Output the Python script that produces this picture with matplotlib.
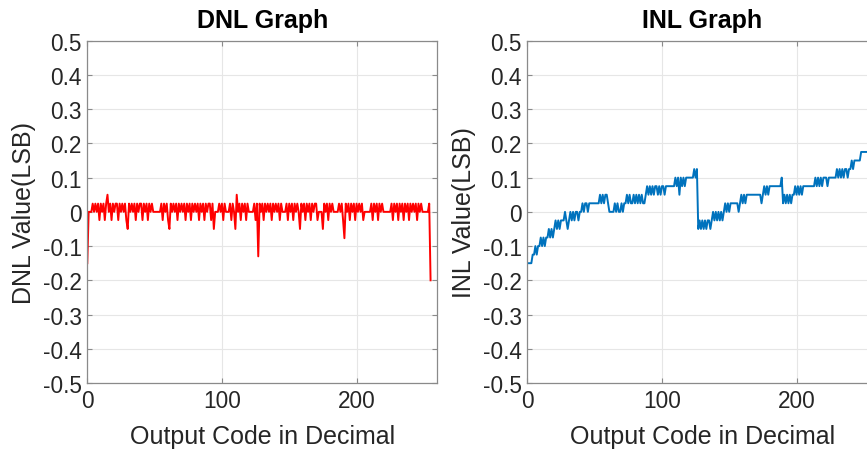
import matplotlib
matplotlib.use("Agg")
import matplotlib.pyplot as plt
import numpy as np
from matplotlib.ticker import FixedLocator, FixedFormatter

plt.rcParams['font.family'] = ['Liberation Sans', 'DejaVu Sans']

codes = list(range(256))

dnl_values = [
    -0.15, 0, 0, 0, 0.024, 0, 0.024, 0, 0.024, -0.024, 0.024, 0, 0.024, -0.024, 0.024, 0.05,
    0, 0.024, -0.024, 0.024, 0, 0.024, 0.024, -0.024, 0.024, 0, 0.024, 0, 0.024, -0.024, -0.05, 0.024,
    0, 0.024, 0, 0.024, -0.024, 0.024, 0, 0.024, 0.024, -0.024, 0.024, 0, 0.024, -0.024, 0.024, 0,
    0.024, 0, 0, 0, 0, 0, 0, 0.024, -0.024, 0.024, 0, 0.024, -0.024, -0.05, 0.024, 0,
    0.024, 0, 0.024, -0.024, 0.024, 0, 0.024, 0, 0.024, -0.024, 0.024, 0, 0.024, -0.024, 0.024, 0,
    0.024, 0, 0.024, -0.024, 0.024, 0, 0.024, -0.024, 0.024, 0, 0.024, 0.024, -0.024, 0.024, -0.05, 0,
    0, 0, 0.024, 0, 0.024, -0.024, 0.024, 0, 0, 0, 0.024, -0.024, 0.024, 0, -0.05, 0.05,
    0, 0.024, -0.024, 0.024, 0, 0.024, -0.024, 0.024, 0, 0, 0, 0, 0.024, -0.024, 0.024, -0.13,
    0.024, 0, 0.024, -0.024, 0.024, 0, 0.024, 0, 0.024, -0.024, 0.024, 0, 0.024, 0, 0.024, -0.024,
    0.024, 0, 0, 0, 0.024, -0.024, 0.024, 0, 0.024, -0.024, 0.024, 0, 0.024, 0, -0.05, 0.024,
    0, 0.024, -0.024, 0.024, 0, 0.024, -0.024, 0.024, 0, 0.024, 0.024, -0.024, 0, 0, 0, -0.05,
    0.024, 0, 0.024, -0.024, 0.024, 0, 0.024, 0, 0, 0, 0, 0.024, 0, 0.024, -0.024, -0.077,
    0.024, 0, 0.024, -0.024, 0.024, 0, 0.024, -0.024, 0.024, 0, 0.024, 0, 0.024, -0.024, 0, 0,
    0, 0, 0, 0.024, -0.024, 0.024, 0, 0.024, -0.024, 0.024, 0, 0.024, 0, 0, 0, 0,
    0, 0, 0.024, -0.024, 0.024, 0, 0.024, -0.024, 0.024, 0, 0.024, -0.024, 0.024, 0, 0.024, -0.024,
    0.024, 0, 0.024, 0, 0.024, -0.024, 0.024, 0, 0.024, 0, 0, 0, 0, 0, 0.024, -0.2,
]

inl_values = [
    -0.15, -0.15, -0.15, -0.15, -0.125, -0.125, -0.1, -0.125, -0.1, -0.1, -0.075, -0.1, -0.075, -0.1, -0.075, -0.075,
    -0.05, -0.075, -0.05, -0.075, -0.05, -0.025, -0.05, -0.025, -0.05, -0.025, -0.025, -0.025, 0.0, -0.025, -0.05, -0.025,
    0.0, -0.025, 0.0, -0.025, 0.0, 0.0, -0.025, 0.0, 0.0, 0.025, 0.0, 0.025, 0.025, 0.0, 0.025, 0.025,
    0.025, 0.025, 0.025, 0.025, 0.025, 0.025, 0.05, 0.025, 0.05, 0.025, 0.05, 0.05, 0.025, 0.0, 0.0, 0.0,
    0.0, 0.025, 0.0, 0.025, 0.0, 0.0, 0.025, 0.0, 0.025, 0.025, 0.05, 0.025, 0.05, 0.025, 0.025, 0.05,
    0.025, 0.05, 0.025, 0.05, 0.025, 0.05, 0.025, 0.025, 0.05, 0.075, 0.05, 0.075, 0.05, 0.075, 0.05, 0.075,
    0.075, 0.05, 0.075, 0.05, 0.075, 0.075, 0.05, 0.075, 0.075, 0.075, 0.075, 0.075, 0.075, 0.075, 0.1, 0.075,
    0.1, 0.05, 0.1, 0.075, 0.1, 0.075, 0.1, 0.1, 0.1, 0.1, 0.1, 0.1, 0.125, 0.1, 0.125, -0.05,
    -0.025, -0.05, -0.025, -0.05, -0.025, -0.05, -0.025, -0.025, -0.05, -0.025, 0.0, -0.025, 0.0, -0.025, 0.0, -0.025,
    0.0, -0.025, 0.0, 0.025, 0.0, 0.025, 0.0, 0.025, 0.025, 0.025, 0.025, 0.025, 0.025, 0.0, 0.025, 0.05,
    0.025, 0.05, 0.025, 0.05, 0.05, 0.05, 0.05, 0.05, 0.05, 0.05, 0.05, 0.05, 0.05, 0.05, 0.025, 0.05,
    0.075, 0.05, 0.075, 0.05, 0.075, 0.075, 0.075, 0.075, 0.075, 0.075, 0.075, 0.075, 0.075, 0.1, 0.025, 0.05,
    0.025, 0.05, 0.025, 0.05, 0.025, 0.05, 0.05, 0.075, 0.05, 0.075, 0.05, 0.075, 0.05, 0.075, 0.075, 0.075,
    0.075, 0.075, 0.075, 0.075, 0.075, 0.075, 0.1, 0.075, 0.1, 0.075, 0.1, 0.075, 0.1, 0.1, 0.1, 0.075,
    0.1, 0.1, 0.1, 0.1, 0.1, 0.1, 0.125, 0.1, 0.125, 0.1, 0.125, 0.1, 0.125, 0.125, 0.1, 0.125,
    0.125, 0.15, 0.125, 0.15, 0.15, 0.15, 0.15, 0.15, 0.175, 0.175, 0.175, 0.175, 0.175, 0.175, 0.175, 0.175,
]

y_ticks = [-0.5, -0.4, -0.3, -0.2, -0.1, 0, 0.1, 0.2, 0.3, 0.4, 0.5]
y_tick_labels = ['-0.5', '-0.4', '-0.3', '-0.2', '-0.1', '0', '0.1', '0.2', '0.3', '0.4', '0.5']
x_ticks = [0, 100, 200]
x_tick_labels = ['0', '100', '200']

W, H = 867, 456
fig = plt.figure(figsize=(W / 100, H / 100), dpi=100)

ax_w = 350 / W
ax_h = 342.3 / H
ax_b = (H - 384) / H
ax1 = fig.add_axes([87.3 / W, ax_b, ax_w, ax_h])
ax2 = fig.add_axes([527.3 / W, ax_b, ax_w, ax_h])

text_col = '#262626'
spine_col = '#8a8a8a'

def style(ax, title, ylabel):
    ax.set_xlim(0, 260)
    ax.set_ylim(-0.5, 0.5)
    ax.yaxis.set_major_locator(FixedLocator(y_ticks))
    ax.yaxis.set_major_formatter(FixedFormatter(y_tick_labels))
    ax.xaxis.set_major_locator(FixedLocator(x_ticks))
    ax.xaxis.set_major_formatter(FixedFormatter(x_tick_labels))
    ax.grid(True, color='#e6e6e6', linewidth=0.8)
    ax.set_axisbelow(True)
    for s in ax.spines.values():
        s.set_color(spine_col)
        s.set_linewidth(0.9)
    ax.tick_params(direction='in', length=3.5, width=0.8, color=spine_col,
                   labelsize=16.3, labelcolor=text_col, top=True, right=True, pad=4)
    ax.set_title(title, fontsize=18, fontweight='bold', color='black', pad=10)
    ax.set_xlabel('Output Code in Decimal', fontsize=18, color=text_col, labelpad=9)
    ax.set_ylabel(ylabel, fontsize=18, color=text_col, labelpad=5)

ax1.plot(codes, dnl_values, color='#ff0000', linewidth=1.4)
style(ax1, 'DNL Graph', 'DNL Value(LSB)')

ax2.plot(codes, inl_values, color='#0072bd', linewidth=1.4)
style(ax2, 'INL Graph', 'INL Value(LSB)')

fig.savefig('out.png', dpi=100)
